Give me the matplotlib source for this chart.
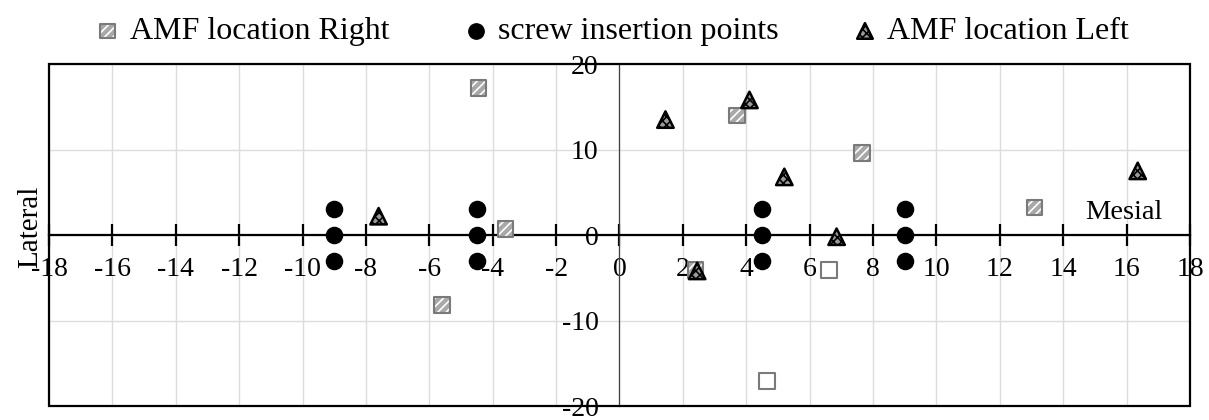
import matplotlib
matplotlib.use("Agg")
import matplotlib.pyplot as plt
from matplotlib.patches import Rectangle
from matplotlib.legend_handler import HandlerTuple

plt.rcParams["font.family"] = ["Liberation Serif", "DejaVu Serif"]
plt.rcParams["axes.unicode_minus"] = False
plt.rcParams["hatch.linewidth"] = 1.2

# screw insertion points
screw_x = [-9, -9, -9, -4.5, -4.5, -4.5, 4.5, 4.5, 4.5, 9, 9, 9]
screw_y = [3, 0, -3, 3, 0, -3, 3, 0, -3, 3, 0, -3]

# AMF location Right (hatched squares)
right_x = [-4.45, -3.6, -5.6, 3.7, 7.65, 13.1, 2.4]
right_y = [17.2, 0.7, -8.2, 14.0, 9.6, 3.2, -4.1]

# open squares (no hatch)
open_x = [6.6, 4.65]
open_y = [-4.1, -17.1]

# AMF location Left (triangles)
left_x = [-7.6, 1.45, 4.1, 5.2, 6.85, 2.45, 16.35]
left_y = [2.2, 13.5, 15.8, 6.8, -0.2, -4.2, 7.5]

xticks = list(range(-18, 19, 2))
yticks = [-20, -10, 0, 10, 20]

fig = plt.figure(figsize=(12.09, 4.2), dpi=100)
ax = fig.add_axes([0.0405, 0.0333, 0.9438, 0.8143])
ax.set_xlim(-18, 18)
ax.set_ylim(-20, 20)

ax.set_xticks(xticks)
ax.set_xticklabels([str(t) for t in xticks])
ax.set_yticks(yticks)
ax.set_yticklabels([str(t) for t in yticks])
ax.grid(True, color="#dcdcdc", linewidth=1.0, zorder=0)
ax.set_axisbelow(True)

ax.spines["top"].set_visible(False)
ax.spines["right"].set_visible(False)
ax.spines["bottom"].set_position(("data", 0))
ax.spines["bottom"].set_linewidth(1.6)
ax.spines["bottom"].set_color("black")
ax.spines["left"].set_position(("data", 0))
ax.spines["left"].set_linewidth(0.9)
ax.spines["left"].set_color("#404040")
ax.tick_params(axis="x", direction="inout", length=16, width=1.6, pad=8, labelsize=20)
ax.tick_params(axis="y", length=0, pad=15, labelsize=20)

ax.add_patch(Rectangle((0, 0), 1, 1, transform=ax.transAxes, fill=False,
                       linewidth=1.6, edgecolor="black", clip_on=False, zorder=5))

sq_base = ax.scatter(right_x, right_y, marker="s", s=125, facecolor="#a8a8a8",
                     edgecolor="white", linewidth=0, hatch="////", zorder=3)
sq_edge = ax.scatter(right_x, right_y, marker="s", s=125, facecolor="none",
                     edgecolor="#7a7a7a", linewidth=1.5, zorder=3)
ax.scatter(open_x, open_y, marker="s", s=125, facecolor="white",
           edgecolor="#7a7a7a", linewidth=1.5, zorder=3)
dots = ax.scatter(screw_x, screw_y, marker="o", s=135, color="black", zorder=4)
tri = ax.scatter(left_x, left_y, marker="^", s=140, facecolor="#9a9a9a",
                 edgecolor="black", linewidth=1.8, hatch="xxxx", zorder=4)

ax.text(15.9, 2.6, "Mesial", fontsize=20.5, ha="center", va="center")
ax.text(-18.6, 1.0, "Lateral", fontsize=21, rotation=90, ha="center", va="center")

ax.legend([(sq_base, sq_edge), dots, tri],
          ["AMF location Right", "screw insertion points", "AMF location Left"],
          handler_map={tuple: HandlerTuple(ndivide=1)},
          loc="lower center", bbox_to_anchor=(0.492, 1.005), ncol=3, frameon=False,
          fontsize=23, markerscale=0.95, handletextpad=0.2, columnspacing=2.2,
          handlelength=1.0, borderaxespad=0.1)

fig.savefig("out.png", dpi=100)
